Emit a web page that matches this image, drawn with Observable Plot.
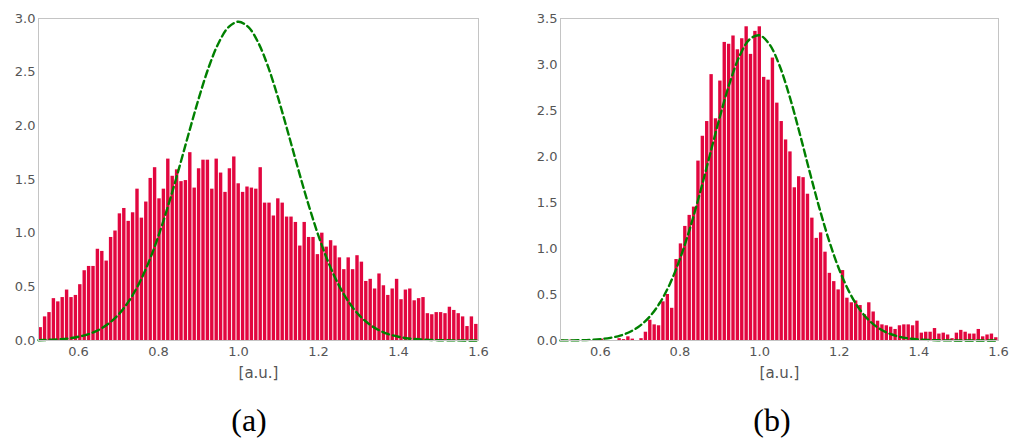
<!DOCTYPE html>
<html><head><meta charset="utf-8">
<script src="https://cdn.jsdelivr.net/npm/d3@7"></script>
<script src="https://cdn.jsdelivr.net/npm/@observablehq/plot@0.6"></script>
<style>
body{margin:0;background:#fff;}
#wrap{position:relative;width:1013px;height:439px;overflow:hidden;}
.panel{position:absolute;top:0;}
.cap{position:absolute;top:402px;font-family:"Liberation Serif","DejaVu Serif",serif;font-size:32px;line-height:normal;transform:translateX(-50%);color:#000;}
</style></head><body>
<div id="wrap">
<div id="a" class="panel" style="left:0"></div>
<div id="b" class="panel" style="left:506px"></div>
<div class="cap" style="left:249px">(a)</div>
<div class="cap" style="left:772px">(b)</div>
</div>
<script>
// Histogram bins: 100 bins starting at 0.5, width 0.011
const binStart = 0.5;
const binWidth = 0.011;

// Panel (a) bar heights
const countsA = [
 0.12,0.22,0.26,0.39,0.36,0.40,0.47,0.40,0.42,0.52,
 0.65,0.69,0.69,0.85,0.83,0.74,0.96,1.02,1.18,1.23,
 1.11,1.19,1.41,1.14,1.29,1.51,1.61,1.32,1.41,1.69,
 1.53,1.59,1.48,1.49,1.75,1.42,1.60,1.68,1.68,1.41,
 1.69,1.56,1.38,1.60,1.71,1.46,1.38,1.43,1.42,1.41,
 1.61,1.28,1.28,1.16,1.32,1.28,1.15,1.15,1.10,0.88,
 1.10,0.96,0.96,0.80,1.00,0.87,0.93,0.88,0.77,0.66,
 0.77,0.66,0.79,0.73,0.55,0.57,0.48,0.62,0.51,0.42,
 0.48,0.57,0.38,0.47,0.48,0.37,0.39,0.40,0.25,0.24,
 0.26,0.26,0.25,0.31,0.28,0.25,0.22,0.13,0.22,0.15];

// Panel (b) bar heights
const countsB = [
 0.005,0,0.005,0,0,0.01,0,0,0.01,0.015,
 0,0,0,0.02,0.01,0.04,0.015,0,0.02,0.09,
 0.22,0.17,0.16,0.42,0.50,0.35,0.88,1.05,1.24,1.36,
 1.45,1.95,2.22,2.38,2.89,2.41,2.82,3.24,3.22,3.31,
 3.16,3.28,3.41,3.11,3.36,3.41,2.86,2.83,3.07,2.58,
 2.38,2.18,2.05,1.66,1.78,1.77,1.59,1.33,1.11,1.17,
 0.96,0.73,0.64,0.55,0.76,0.46,0.41,0.43,0.38,0.28,
 0.41,0.31,0.21,0.17,0.16,0.145,0.12,0.16,0.17,0.17,
 0.16,0.21,0.08,0.09,0.09,0.13,0.07,0.08,0.06,0.02,
 0.08,0.11,0.09,0.07,0.07,0.12,0.04,0.06,0.07,0.03];

// Dashed fit curves
const curveX = [0.5,0.525,0.55,0.575,0.6,0.625,0.65,0.675,0.7,0.725,0.75,0.775,0.8,0.825,0.85,0.875,0.9,0.925,0.95,0.975,
 1.0,1.025,1.05,1.075,1.1,1.125,1.15,1.175,1.2,1.225,1.25,1.275,1.3,1.325,1.35,1.375,1.4,1.425,1.45,1.475,1.5,1.55,1.6];
const curveA = [0.003,0.006,0.011,0.019,0.035,0.059,0.098,0.157,0.242,0.362,0.521,0.725,0.975,1.266,1.587,1.922,2.248,2.540,2.770,2.919,
 2.97,2.919,2.770,2.540,2.248,1.922,1.587,1.266,0.975,0.725,0.521,0.362,0.242,0.157,0.098,0.059,0.035,0.019,0.011,0.006,0.003,0.001,0.0];
const curveB = [0.001,0.0015,0.003,0.007,0.015,0.029,0.053,0.095,0.162,0.264,0.413,0.618,0.887,1.217,1.600,2.014,2.427,2.801,3.095,3.274,
 3.317,3.218,2.989,2.658,2.264,1.846,1.442,1.078,0.772,0.529,0.347,0.218,0.131,0.076,0.042,0.022,0.011,0.006,0.0025,0.001,0.0005,0.0001,0.0];

const xTicks = [0.6,0.8,1.0,1.2,1.4,1.6];
const yTicksA = [0,0.5,1.0,1.5,2.0,2.5,3.0];
const yTicksB = [0,0.5,1.0,1.5,2.0,2.5,3.0,3.5];
const xLabel = "[a.u.]";

function panel(counts, curveY, yMax, yTicks, width, marginLeft, marginRight) {
  const bars = counts.map((v, i) => ({x1: binStart + i * binWidth, x2: binStart + (i + 1) * binWidth, y: v}));
  const curve = curveX.map((x, i) => ({x, y: curveY[i]}));
  return Plot.plot({
    width, height: 385,
    marginLeft, marginRight, marginTop: 18, marginBottom: 45,
    style: {fontFamily: "DejaVu Sans", fontSize: "13px", color: "#555", background: "white"},
    x: {domain: [0.5, 1.6], ticks: xTicks, tickFormat: ".1f", tickSize: 0, tickPadding: 6, label: null},
    y: {domain: [0, yMax], ticks: yTicks, tickFormat: ".1f", tickSize: 0, tickPadding: 3, label: null},
    marks: [
      Plot.rectY(bars, {x1: "x1", x2: "x2", y: "y", fill: "#e2063f", insetLeft: 0.5, insetRight: 0.5}),
      Plot.line(curve, {x: "x", y: "y", stroke: "#008000", strokeWidth: 2.4, strokeDasharray: "7,4", curve: "catmull-rom"}),
      Plot.frame({stroke: "#c4c4c4"}),
      Plot.text([xLabel], {text: d => d, frameAnchor: "bottom", dy: 33, lineAnchor: "middle", fontSize: 15, fill: "#555"})
    ]
  });
}

document.getElementById("a").append(panel(countsA, curveA, 3.0, yTicksA, 506, 38, 28));
document.getElementById("b").append(panel(countsB, curveB, 3.5, yTicksB, 507, 54, 15));
</script></body></html>
